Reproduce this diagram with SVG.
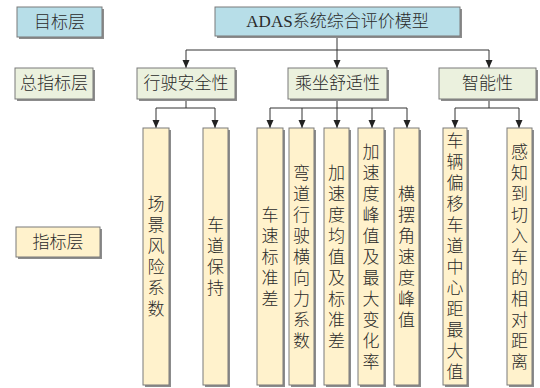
<svg xmlns="http://www.w3.org/2000/svg" width="540" height="388" viewBox="0 0 540 388">
<defs>
<style>
.t{font-family:"Liberation Serif","Noto Sans CJK SC",serif;font-size:17px;font-weight:300;fill:#2a2a2a;text-anchor:middle;dominant-baseline:central}
.v{font-family:"Liberation Serif","Noto Sans CJK SC",serif;font-size:17px;font-weight:300;fill:#2a2a2a;text-anchor:middle;dominant-baseline:central}
.sh{fill:#8c8c8c}
.b{stroke:#7a7a7a;stroke-width:1}
.blue{fill:#b7dee8}
.green{fill:#ebf1de}
.tan{fill:#fff2cc}
.c{stroke:#333;stroke-width:1;fill:none}
.a{stroke:#333;stroke-width:1;fill:none;marker-end:url(#ah)}
</style>
<marker id="ah" viewBox="0 0 8 8" refX="8" refY="4" markerWidth="8" markerHeight="8" markerUnits="userSpaceOnUse" orient="auto">
<path d="M0,0.5 L8,4 L0,7.5 Z" fill="#222"/>
</marker>
</defs>
<rect width="540" height="388" fill="#fff"/>

<g id="connectors">
<path class="c" d="M337,37 V50 M186,50 H489"/>
<path class="a" d="M186,50 V68"/>
<path class="a" d="M337,50 V68"/>
<path class="a" d="M489,50 V68"/>
<path class="c" d="M186,99 V108 M156,108 H215"/>
<path class="a" d="M156,108 V128"/>
<path class="a" d="M215,108 V128"/>
<path class="c" d="M337,99 V108 M270,108 H407"/>
<path class="a" d="M270,108 V128"/>
<path class="a" d="M302,108 V128"/>
<path class="a" d="M337,108 V128"/>
<path class="a" d="M372,108 V128"/>
<path class="a" d="M407,108 V128"/>
<path class="c" d="M489,99 V108 M455,108 H519"/>
<path class="a" d="M455,108 V128"/>
<path class="a" d="M519,108 V128"/>
</g>

<g id="label-goal">
<rect class="sh" x="19" y="9" width="85" height="30"/>
<rect class="blue b" x="17" y="7" width="85" height="30"/>
<text class="t" x="59.5" y="22">目标层</text>
</g>
<g id="label-total">
<rect class="sh" x="17" y="70" width="78" height="31"/>
<rect class="green b" x="15" y="68" width="78" height="31"/>
<text class="t" x="54" y="83.5">总指标层</text>
</g>
<g id="label-index">
<rect class="sh" x="18" y="229" width="84" height="30"/>
<rect class="tan b" x="16" y="227" width="84" height="30"/>
<text class="t" x="58" y="242">指标层</text>
</g>

<g id="root">
<rect class="sh" x="217" y="9" width="245" height="29"/>
<rect class="blue b" x="215" y="7" width="245" height="29"/>
<text class="t" x="337.5" y="21.5">ADAS系统综合评价模型</text>
</g>

<g id="safety">
<rect class="sh" x="139" y="70" width="98" height="31"/>
<rect class="green b" x="137" y="68" width="98" height="31"/>
<text class="t" x="186" y="83.5">行驶安全性</text>
</g>
<g id="comfort">
<rect class="sh" x="290" y="70" width="99" height="31"/>
<rect class="green b" x="288" y="68" width="99" height="31"/>
<text class="t" x="337.5" y="83.5">乘坐舒适性</text>
</g>
<g id="intelligence">
<rect class="sh" x="441" y="70" width="97" height="31"/>
<rect class="green b" x="439" y="68" width="97" height="31"/>
<text class="t" x="487.5" y="83.5">智能性</text>
</g>

<g id="n1">
<rect class="sh" x="145" y="130" width="26" height="257"/>
<rect class="tan b" x="143" y="128" width="26" height="257"/>
<text class="v"><tspan x="156" y="204">场</tspan><tspan x="156" y="225">景</tspan><tspan x="156" y="246">风</tspan><tspan x="156" y="267">险</tspan><tspan x="156" y="288">系</tspan><tspan x="156" y="309">数</tspan></text>
</g>
<g id="n2">
<rect class="sh" x="205" y="130" width="25" height="257"/>
<rect class="tan b" x="203" y="128" width="25" height="257"/>
<text class="v"><tspan x="215.5" y="225">车</tspan><tspan x="215.5" y="246">道</tspan><tspan x="215.5" y="267">保</tspan><tspan x="215.5" y="288">持</tspan></text>
</g>
<g id="n3">
<rect class="sh" x="259" y="130" width="26" height="257"/>
<rect class="tan b" x="257" y="128" width="26" height="257"/>
<text class="v"><tspan x="270" y="214.5">车</tspan><tspan x="270" y="235.5">速</tspan><tspan x="270" y="256.5">标</tspan><tspan x="270" y="277.5">准</tspan><tspan x="270" y="298.5">差</tspan></text>
</g>
<g id="n4">
<rect class="sh" x="291" y="130" width="25" height="257"/>
<rect class="tan b" x="289" y="128" width="25" height="257"/>
<text class="v"><tspan x="301.5" y="172.5">弯</tspan><tspan x="301.5" y="193.5">道</tspan><tspan x="301.5" y="214.5">行</tspan><tspan x="301.5" y="235.5">驶</tspan><tspan x="301.5" y="256.5">横</tspan><tspan x="301.5" y="277.5">向</tspan><tspan x="301.5" y="298.5">力</tspan><tspan x="301.5" y="319.5">系</tspan><tspan x="301.5" y="340.5">数</tspan></text>
</g>
<g id="n5">
<rect class="sh" x="326" y="130" width="25" height="257"/>
<rect class="tan b" x="324" y="128" width="25" height="257"/>
<text class="v"><tspan x="336.5" y="172.5">加</tspan><tspan x="336.5" y="193.5">速</tspan><tspan x="336.5" y="214.5">度</tspan><tspan x="336.5" y="235.5">均</tspan><tspan x="336.5" y="256.5">值</tspan><tspan x="336.5" y="277.5">及</tspan><tspan x="336.5" y="298.5">标</tspan><tspan x="336.5" y="319.5">准</tspan><tspan x="336.5" y="340.5">差</tspan></text>
</g>
<g id="n6">
<rect class="sh" x="360" y="130" width="26" height="257"/>
<rect class="tan b" x="358" y="128" width="26" height="257"/>
<text class="v"><tspan x="371" y="151.5">加</tspan><tspan x="371" y="172.5">速</tspan><tspan x="371" y="193.5">度</tspan><tspan x="371" y="214.5">峰</tspan><tspan x="371" y="235.5">值</tspan><tspan x="371" y="256.5">及</tspan><tspan x="371" y="277.5">最</tspan><tspan x="371" y="298.5">大</tspan><tspan x="371" y="319.5">变</tspan><tspan x="371" y="340.5">化</tspan><tspan x="371" y="361.5">率</tspan></text>
</g>
<g id="n7">
<rect class="sh" x="396" y="130" width="25" height="257"/>
<rect class="tan b" x="394" y="128" width="25" height="257"/>
<text class="v"><tspan x="406.5" y="193.5">横</tspan><tspan x="406.5" y="214.5">摆</tspan><tspan x="406.5" y="235.5">角</tspan><tspan x="406.5" y="256.5">速</tspan><tspan x="406.5" y="277.5">度</tspan><tspan x="406.5" y="298.5">峰</tspan><tspan x="406.5" y="319.5">值</tspan></text>
</g>
<g id="n8">
<rect class="sh" x="445" y="130" width="24" height="257"/>
<rect class="tan b" x="443" y="128" width="24" height="257"/>
<text class="v"><tspan x="455" y="141">车</tspan><tspan x="455" y="162">辆</tspan><tspan x="455" y="183">偏</tspan><tspan x="455" y="204">移</tspan><tspan x="455" y="225">车</tspan><tspan x="455" y="246">道</tspan><tspan x="455" y="267">中</tspan><tspan x="455" y="288">心</tspan><tspan x="455" y="309">距</tspan><tspan x="455" y="330">最</tspan><tspan x="455" y="351">大</tspan><tspan x="455" y="372">值</tspan></text>
</g>
<g id="n9">
<rect class="sh" x="509" y="130" width="25" height="257"/>
<rect class="tan b" x="507" y="128" width="25" height="257"/>
<text class="v"><tspan x="519.5" y="151.5">感</tspan><tspan x="519.5" y="172.5">知</tspan><tspan x="519.5" y="193.5">到</tspan><tspan x="519.5" y="214.5">切</tspan><tspan x="519.5" y="235.5">入</tspan><tspan x="519.5" y="256.5">车</tspan><tspan x="519.5" y="277.5">的</tspan><tspan x="519.5" y="298.5">相</tspan><tspan x="519.5" y="319.5">对</tspan><tspan x="519.5" y="340.5">距</tspan><tspan x="519.5" y="361.5">离</tspan></text>
</g>
</svg>
